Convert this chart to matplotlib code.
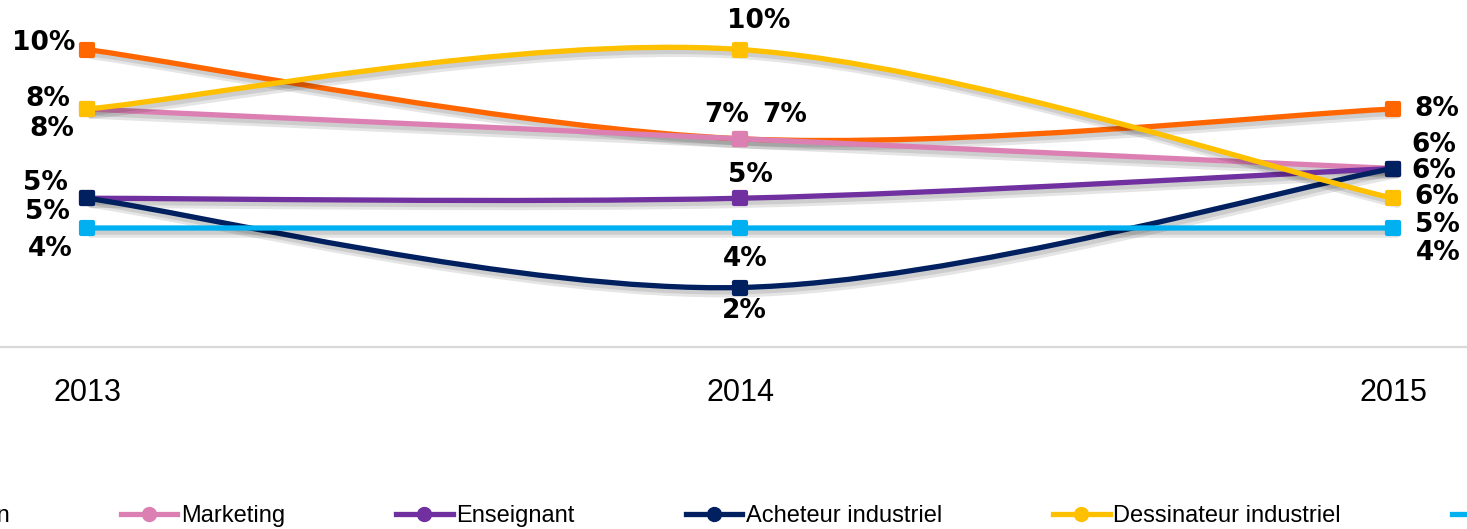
import matplotlib
matplotlib.use("Agg")
import matplotlib.pyplot as plt
import matplotlib.patheffects as pe
from matplotlib.path import Path
from matplotlib.patches import PathPatch
from matplotlib.lines import Line2D
from matplotlib.markers import MarkerStyle

years = ["2013", "2014", "2015"]
ingenieur = [0.10, 0.07, 0.08]
marketing = [0.08, 0.07, 0.06]
enseignant = [0.05, 0.05, 0.06]
acheteur = [0.05, 0.02, 0.06]
dessinateur = [0.08, 0.10, 0.05]
technicien = [0.04, 0.04, 0.04]

names = ["Ingénieur conception", "Marketing", "Enseignant",
         "Acheteur industriel", "Dessinateur industriel", "Technicien"]
series = [ingenieur, marketing, enseignant, acheteur, dessinateur, technicien]
colors = ["#FF6600", "#DC80B4", "#7030A0", "#002060", "#FFC000", "#00B0F0"]

# label offsets in pixels (dx, dy) for each point of each series
offsets = [
    [(-43, 6), (45, 24), (44, 0)],
    [(-35, -20), (-13, 24), (41, 23)],
    [(-42, 15), (10, 23), (41, -2)],
    [(-40, -14), (4, -24), (44, -29)],
    [(-39, 10), (19, 29), (44, -27)],
    [(-37, -21), (5, -31), (45, -25)],
]


def smooth_path(xs, ys):
    # Excel-like smoothed line: cubic bezier through the points
    n = len(xs)
    px = [xs[0]] + list(xs) + [xs[-1]]
    py = [ys[0]] + list(ys) + [ys[-1]]
    verts = [(xs[0], ys[0])]
    codes = [Path.MOVETO]
    for i in range(n - 1):
        j = i + 1
        c1 = (px[j] + (px[j + 1] - px[j - 1]) / 6, py[j] + (py[j + 1] - py[j - 1]) / 6)
        c2 = (px[j + 1] - (px[j + 2] - px[j]) / 6, py[j + 1] - (py[j + 2] - py[j]) / 6)
        verts += [c1, c2, (px[j + 1], py[j + 1])]
        codes += [Path.CURVE4] * 3
    return Path(verts, codes)


fig = plt.figure(figsize=(14.67, 5.29), dpi=100)
ax = fig.add_axes([0, 1 - 347 / 529, 1, 347 / 529])

x = list(range(len(years)))
sq = MarkerStyle("s", joinstyle="round")

for k, (vals, col) in enumerate(zip(series, colors)):
    patch = PathPatch(smooth_path(x, vals), facecolor="none", edgecolor=col,
                      lw=3.8, capstyle="round", zorder=2 + k)
    patch.set_path_effects([
        pe.SimpleLineShadow(offset=(3, -4), shadow_color="black", alpha=0.10, linewidth=6),
        pe.SimpleLineShadow(offset=(2, -3), shadow_color="black", alpha=0.10),
        pe.Normal()])
    ax.add_patch(patch)
    ax.plot(x, vals, linestyle="none", marker=sq, markersize=9, markeredgewidth=3,
            color=col, markeredgecolor=col, zorder=2.5 + k)
    for i, v in enumerate(vals):
        ax.annotate(f"{v * 100:.0f}%", (x[i], v), xytext=offsets[k][i],
                    textcoords="offset pixels", ha="center", va="center",
                    fontsize=19, fontweight="bold", family="DejaVu Sans",
                    color="black", annotation_clip=False, zorder=20)

ax.set_xlim(-87 / 653, (1467 - 87) / 653)
ax.set_ylim(0, 347 / 2975)
ax.set_xticks(x)
ax.set_xticklabels(years, fontsize=22, family="Liberation Sans")
ax.tick_params(axis="x", length=0, pad=22)
ax.set_yticks([])
for s in ["top", "left", "right"]:
    ax.spines[s].set_visible(False)
ax.spines["bottom"].set_color("#d9d9d9")
ax.spines["bottom"].set_linewidth(1.6)

handles = [Line2D([], [], color=c, lw=3.8, marker="o", markersize=10) for c in colors]
leg = fig.legend(handles, names, loc="center left", bbox_to_anchor=(0.0, 13 / 529),
                 ncol=6, frameon=False, prop={"family": "Liberation Sans", "size": 17},
                 handlelength=2.4, handletextpad=0.15, columnspacing=4.7,
                 borderpad=0, borderaxespad=0)

# shift the legend so that the "Marketing" entry lands where it is in the original
fig.canvas.draw()
r = fig.canvas.get_renderer()
x0 = leg.get_texts()[1].get_window_extent(r).x0
leg.set_bbox_to_anchor(((181 - x0) / 1467, 13 / 529), transform=fig.transFigure)

fig.savefig("out.png", dpi=100)
